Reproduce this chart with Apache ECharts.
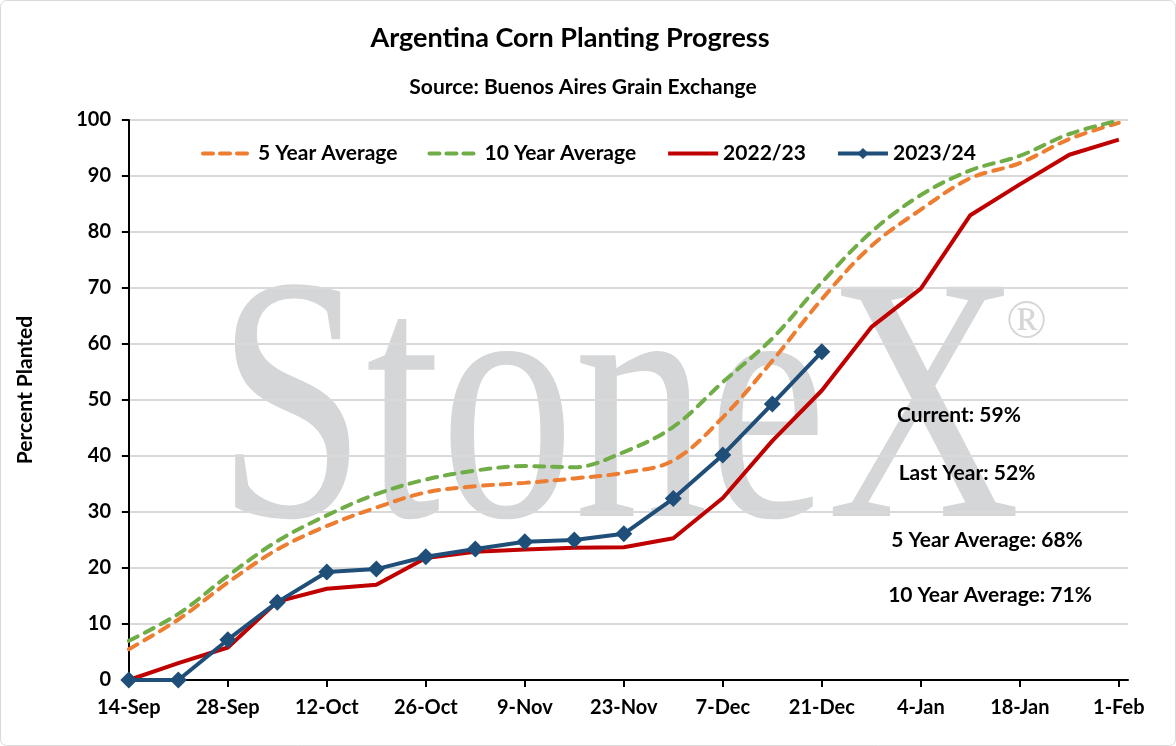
<!DOCTYPE html>
<html>
<head>
<meta charset="utf-8">
<script src="https://cdn.jsdelivr.net/npm/echarts@6/dist/echarts.min.js"></script>
<style>
html,body{margin:0;padding:0;background:#fff;}
#c{width:1176px;height:746px;}
</style>
</head>
<body>
<div id="c"></div>
<script>
// Days since 14-Sep (weekly observations)
const weekDays = [0,7,14,21,28,35,42,49,56,63,70,77,84,91,98,105,112,119,126,133,140];
const tickDays = [0,14,28,42,56,70,84,98,112,126,140];
const tickLabels = ['14-Sep','28-Sep','12-Oct','26-Oct','9-Nov','23-Nov','7-Dec','21-Dec','4-Jan','18-Jan','1-Feb'];

const avg5 = [5.5,10.8,17.4,23.3,27.5,30.8,33.5,34.6,35.2,36.0,37.0,39.2,46.9,57.0,68.0,77.5,84.0,89.6,92.3,96.6,99.5];
const avg10 = [7.0,11.8,18.6,24.8,29.4,33.2,35.8,37.4,38.2,38.0,40.7,45.2,53.2,61.0,71.0,80.0,86.6,91.0,93.6,97.5,99.9];
const y2022 = [0,3.0,5.8,14.0,16.3,17.0,21.8,22.9,23.3,23.6,23.7,25.3,32.5,42.7,51.7,63.0,69.9,83.0,88.5,93.8,96.5];
const y2023 = [0,0,7.2,13.9,19.3,19.8,22.0,23.4,24.7,25.0,26.1,32.4,40.2,49.3,58.6];

const seriesNames = ['5 Year Average','10 Year Average','2022/23','2023/24'];
const annotations = ['Current: 59%','Last Year: 52%','5 Year Average: 68%','10 Year Average: 71%'];

function pairs(vals){ return vals.map((v,i)=>[weekDays[i],v]); }

const FONT = 'Lato';
const chart = echarts.init(document.getElementById('c'));
chart.setOption({
  animation:false,
  backgroundColor:'#ffffff',
  textStyle:{fontFamily:FONT},
  title:[
    {text:'Argentina Corn Planting Progress',left:565,top:20,textAlign:'center',
     textStyle:{fontFamily:FONT,fontWeight:'bold',fontSize:27,color:'#000'}},
    {text:'Source: Buenos Aires Grain Exchange',left:578,top:72,textAlign:'center',
     textStyle:{fontFamily:FONT,fontWeight:'bold',fontSize:21,color:'#000'}}
  ],
  legend:{
    left:196,top:138,itemWidth:50,itemHeight:14,itemGap:30,
    data:[
      {name:seriesNames[0],itemStyle:{opacity:0},lineStyle:{width:4,type:[10,7],cap:'round'}},
      {name:seriesNames[1],itemStyle:{opacity:0},lineStyle:{width:4,type:[10,7],cap:'round'}},
      {name:seriesNames[2],itemStyle:{opacity:0},lineStyle:{width:4}},
      {name:seriesNames[3],lineStyle:{width:4}}
    ],
    textStyle:{fontFamily:FONT,fontWeight:'bold',fontSize:21,color:'#000'}
  },
  grid:{left:126,right:48,top:120,bottom:66,containLabel:false},
  xAxis:{
    type:'value',min:-0.4,max:141.3,
    axisLine:{show:true,lineStyle:{color:'#000',width:2}},
    axisTick:{show:true,length:7,lineStyle:{color:'#000',width:2},customValues:tickDays},
    axisLabel:{customValues:tickDays,margin:18,fontFamily:FONT,fontWeight:'bold',fontSize:20,color:'#000',
      formatter:function(v){const i=tickDays.indexOf(Math.round(v));return i>=0?tickLabels[i]:'';}},
    splitLine:{show:false}
  },
  yAxis:{
    type:'value',min:0,max:100,interval:10,
    axisLine:{show:true,lineStyle:{color:'#000',width:2}},
    axisTick:{show:true,length:7,lineStyle:{color:'#000',width:2}},
    axisLabel:{margin:15,fontFamily:FONT,fontWeight:'bold',fontSize:20,color:'#000'},
    splitLine:{show:true,lineStyle:{color:'#d9d9d9',width:2}}
  },
  graphic:[
    {type:'rect',z:-10,shape:{x:0.5,y:0.5,width:1175,height:745,r:6},style:{fill:'#fff',stroke:'#d9d9d9',lineWidth:1}},
    {type:'text',z:-5,x:217,y:249,scaleX:0.765,originX:0,originY:0,
      style:{text:'StoneX',font:'normal 350px "Liberation Serif"',fill:'#d5d6d8',textVerticalAlign:'top'}},
    {type:'text',z:-5,x:1006,y:296,style:{text:'®',font:'normal 54px "Liberation Serif"',fill:'#d5d6d8'}},
    {type:'text',x:25,y:390,rotation:Math.PI/2,
      style:{text:'Percent Planted',font:'bold 21px Lato',fill:'#000',textAlign:'center',textVerticalAlign:'middle'}},
    {type:'text',x:959,y:415,style:{text:annotations[0],font:'bold 21px Lato',fill:'#000',textAlign:'center',textVerticalAlign:'middle'}},
    {type:'text',x:967,y:473,style:{text:annotations[1],font:'bold 21px Lato',fill:'#000',textAlign:'center',textVerticalAlign:'middle'}},
    {type:'text',x:987,y:540,style:{text:annotations[2],font:'bold 21px Lato',fill:'#000',textAlign:'center',textVerticalAlign:'middle'}},
    {type:'text',x:990,y:595,style:{text:annotations[3],font:'bold 21px Lato',fill:'#000',textAlign:'center',textVerticalAlign:'middle'}}
  ],
  series:[
    {name:seriesNames[0],type:'line',data:pairs(avg5),smooth:0.35,showSymbol:false,symbol:'none',
     itemStyle:{color:'#ed7d31'},lineStyle:{color:'#ed7d31',width:4,type:[10,8],cap:'round'},z:2},
    {name:seriesNames[1],type:'line',data:pairs(avg10),smooth:0.35,showSymbol:false,symbol:'none',
     itemStyle:{color:'#70ad47'},lineStyle:{color:'#70ad47',width:4,type:[10,8],cap:'round'},z:2},
    {name:seriesNames[2],type:'line',data:pairs(y2022),symbol:'none',
     itemStyle:{color:'#c00000'},lineStyle:{color:'#c00000',width:4},z:3},
    {name:seriesNames[3],type:'line',data:pairs(y2023),symbol:'diamond',symbolSize:17,showSymbol:true,
     itemStyle:{color:'#1f4e79'},lineStyle:{color:'#1f4e79',width:4},z:4}
  ]
});
</script>
</body>
</html>
